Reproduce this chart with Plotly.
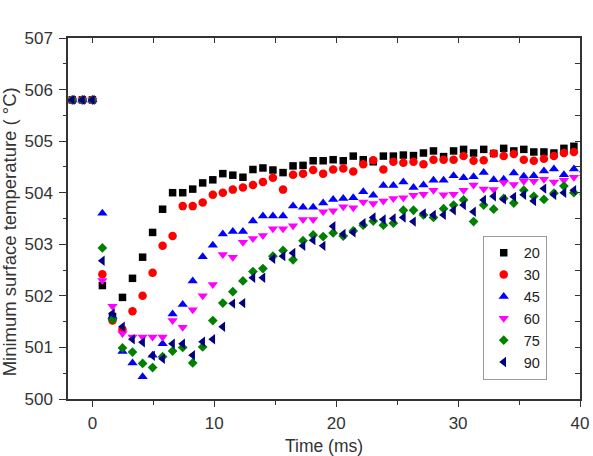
import plotly.graph_objects as go

time_ms = [-1.65, -0.82, 0.0, 0.82, 1.65, 2.47, 3.29, 4.12, 4.94, 5.76, 6.58, 7.41,
           8.23, 9.05, 9.88, 10.70, 11.52, 12.35, 13.17, 13.99, 14.81, 15.64, 16.46,
           17.28, 18.11, 18.93, 19.75, 20.58, 21.40, 22.22, 23.04, 23.87, 24.69, 25.51,
           26.34, 27.16, 27.98, 28.81, 29.63, 30.45, 31.27, 32.10, 32.92, 33.74, 34.57,
           35.39, 36.21, 37.04, 37.86, 38.68, 39.50, 40.33]

s20 = [505.8, 505.8, 505.8, 502.2, 501.6, 501.97, 502.34, 502.75, 503.23, 503.68, 504.0, 504.0,
       504.07, 504.19, 504.25, 504.37, 504.34, 504.3, 504.45, 504.48, 504.44, 504.39, 504.52,
       504.53, 504.62, 504.62, 504.64, 504.62, 504.71, 504.64, 504.6, 504.71, 504.71, 504.73,
       504.72, 504.77, 504.81, 504.7, 504.81, 504.84, 504.77, 504.84, 504.76, 504.86, 504.81,
       504.84, 504.79, 504.79, 504.77, 504.86, 504.9, 504.88]

s30 = [505.8, 505.8, 505.8, 502.42, 501.52, 501.35, 501.7, 502.0, 502.45, 502.97, 503.16, 503.74,
       503.74, 503.81, 503.96, 504.0, 504.06, 504.1, 504.15, 504.21, 504.29, 504.06, 504.35,
       504.37, 504.44, 504.37, 504.45, 504.47, 504.41, 504.55, 504.63, 504.45, 504.6, 504.58,
       504.6, 504.55, 504.64, 504.64, 504.64, 504.71, 504.62, 504.63, 504.76, 504.71, 504.75,
       504.64, 504.62, 504.66, 504.71, 504.77, 504.79, 504.71]

s45 = [505.8, 505.8, 505.8, 503.6, 501.6, 500.92, 500.7, 500.43, 500.85, 501.07, 501.65, 501.83,
       502.29, 502.76, 502.98, 503.2, 503.25, 503.25, 503.45, 503.55, 503.55, 503.55, 503.74,
       503.72, 503.72, 503.8, 503.87, 503.89, 503.9, 504.02, 503.95, 504.14, 504.14, 504.21,
       504.1, 504.15, 504.24, 504.24, 504.33, 504.29, 504.31, 504.39, 504.25, 504.26, 504.38,
       504.32, 504.33, 504.42, 504.46, 504.35, 504.46, 504.44]

s60 = [505.8, 505.8, 505.8, 502.3, 501.8, 501.27, 501.2, 501.2, 501.2, 501.2, 501.52, 501.39,
       501.73, 502.0, 502.22, 502.8, 502.75, 503.04, 503.11, 503.17, 503.3, 503.3, 503.36,
       503.48, 503.48, 503.63, 503.65, 503.73, 503.71, 503.82, 503.79, 503.84, 503.89, 503.9,
       503.95, 503.97, 504.05, 503.96, 503.97, 504.05, 504.15, 504.07, 504.06, 504.2, 504.16,
       504.22, 504.22, 504.26, 504.21, 504.24, 504.3, 504.3]

s75 = [505.8, 505.8, 505.8, 502.93, 501.54, 500.99, 500.91, 500.69, 500.61, 500.82, 500.93, 501.0,
       500.7, 501.01, 501.52, 501.86, 502.08, 502.29, 502.47, 502.53, 502.77, 502.88, 502.7,
       503.07, 503.18, 503.15, 503.22, 503.16, 503.26, 503.37, 503.45, 503.37, 503.41, 503.66,
       503.66, 503.57, 503.52, 503.69, 503.76, 503.86, 503.44, 503.76, 503.68, 503.89, 503.8,
       504.05, 503.93, 503.87, 503.99, 504.13, 504.0, 503.97]

s90 = [505.8, 505.8, 505.8, 502.68, 501.66, 501.4, 501.16, 501.1, 500.84, 500.78, 501.07, 501.07,
       500.85, 501.11, 501.16, 501.4, 501.85, 501.86, 502.35, 502.35, 502.72, 502.77, 502.83,
       502.97, 503.08, 502.97, 503.35, 503.2, 503.23, 503.41, 503.52, 503.48, 503.5, 503.52,
       503.44, 503.6, 503.57, 503.57, 503.66, 503.76, 503.63, 503.86, 503.93, 503.87, 503.92,
       503.96, 503.84, 504.08, 503.96, 504.0, 504.05, 504.05]

names = ["20", "30", "45", "60", "75", "90"]
colors = ["#000000", "#FF0000", "#0000FF", "#FF00FF", "#008000", "#000080"]
symbols = ["square", "circle", "triangle-up", "triangle-down", "diamond", "triangle-left"]
sizes = [7.5, 8.5, 9, 9, 7.5, 9]
series = [s20, s30, s45, s60, s75, s90]

x_title = "Time (ms)"
y_title = "Minimum surface temperature ( °C)"

fig = go.Figure()
for nm, col, sym, sz, ys in zip(names, colors, symbols, sizes, series):
    fig.add_trace(go.Scatter(x=time_ms, y=ys, mode="markers", name=nm,
                             marker=dict(symbol=sym, color=col, size=sz, line=dict(width=0))))

# dummy trace for mirrored (inward-tick) axes
fig.add_trace(go.Scatter(x=[None], y=[None], xaxis="x2", yaxis="y2", showlegend=False,
                         hoverinfo="skip", mode="markers"))

axcol = "#333333"
font = "Liberation Sans, Arial, sans-serif"

fig.update_layout(
    width=593, height=456,
    margin=dict(l=68, r=13, t=38, b=57, autoexpand=False),
    paper_bgcolor="white", plot_bgcolor="white",
    font=dict(family=font, color=axcol, size=17),
    showlegend=True,
    legend=dict(x=0.81, y=0.452, xanchor="left", yanchor="top",
                bordercolor="#999999", borderwidth=1, bgcolor="white",
                font=dict(size=14.5, color="#222222"), itemwidth=30),
    xaxis=dict(range=[-2, 40], dtick=10, tick0=0, showline=True, linecolor=axcol, linewidth=1.5,
               mirror=True, ticks="outside", ticklen=6, tickwidth=1.3, tickcolor=axcol,
               showgrid=False, zeroline=False, ticklabelstandoff=2, automargin=False,
               minor=dict(dtick=5, tick0=0, ticks="outside", ticklen=4, tickcolor=axcol, tickwidth=1.3, showgrid=False),
               tickfont=dict(size=17),
               title=dict(text=x_title, font=dict(size=17.5), standoff=16)),
    yaxis=dict(range=[500, 507], dtick=1, tick0=500, showline=True, linecolor=axcol, linewidth=1.5,
               mirror=True, ticks="outside", ticklen=7, tickwidth=1.3, tickcolor=axcol,
               showgrid=False, zeroline=False, ticklabelstandoff=3, automargin=False,
               minor=dict(dtick=0.5, tick0=500, ticks="outside", ticklen=3, tickcolor=axcol, tickwidth=1.3, showgrid=False),
               tickfont=dict(size=17)),
    xaxis2=dict(range=[-2, 40], overlaying="x", side="top", anchor="y2", dtick=5, tick0=0,
                ticks="inside", ticklen=5, tickwidth=1.3, tickcolor=axcol, showticklabels=False,
                showgrid=False, zeroline=False, showline=False, automargin=False),
    yaxis2=dict(range=[500, 507], overlaying="y", side="right", anchor="x2", dtick=0.5, tick0=500,
                ticks="inside", ticklen=5, tickwidth=1.3, tickcolor=axcol, showticklabels=False,
                showgrid=False, zeroline=False, showline=False, automargin=False),
    annotations=[dict(text=y_title, xref="paper", yref="paper", x=-0.115, y=0.462,
                      xanchor="center", yanchor="middle", textangle=-90, showarrow=False,
                      font=dict(size=18.5, color=axcol))],
)

fig.write_html("out.html")
